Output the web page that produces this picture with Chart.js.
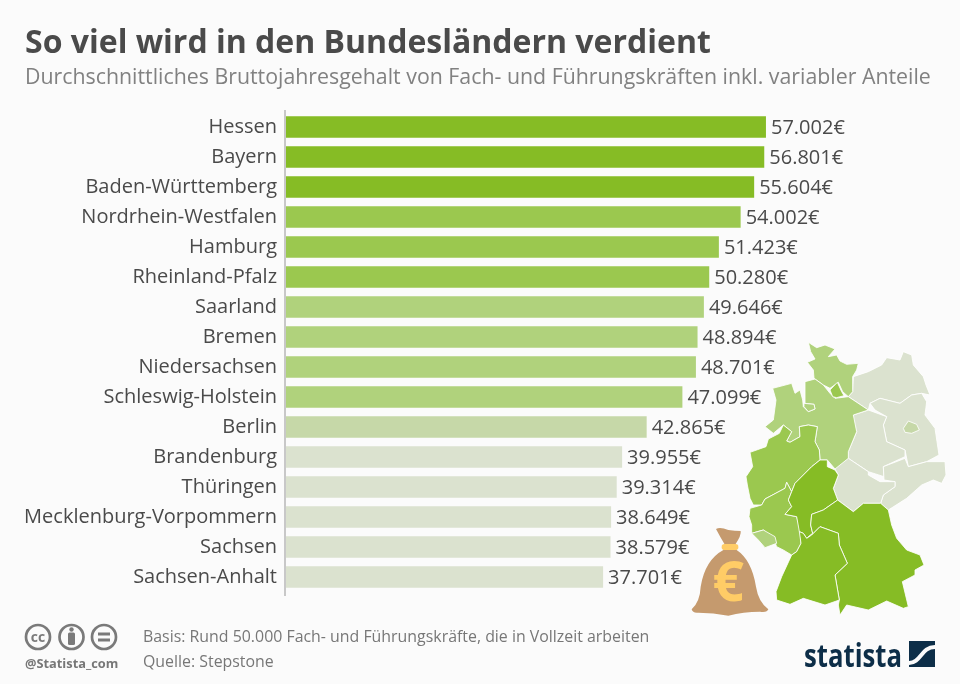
<!DOCTYPE html>
<html lang="de">
<head>
<meta charset="utf-8">
<title>So viel wird in den Bundesländern verdient</title>
<script src="https://cdn.jsdelivr.net/npm/chart.js@4"></script>
<style>
  body { margin: 0; background: #fbfbfb; font-family: 'Open Sans', sans-serif; }
  #page { position: relative; width: 960px; height: 684px; overflow: hidden; }
  #page canvas { position: absolute; left: 0; top: 0; }
  .txt { position: absolute; white-space: nowrap; }
  #title { left: 25px; top: 19px; font-size: 32px; font-weight: 700; color: #4a4a4a; }
  #subtitle { left: 25px; top: 61px; font-size: 21.33px; color: #818181; }
  .note { left: 143px; font-size: 15.9px; color: #777; }
  #handle { left: 25px; top: 654px; font-size: 12.8px; font-weight: 700; color: #777; }
  svg { position: absolute; }
</style>
</head>
<body>
<div id="page">
  <canvas id="chart" width="960" height="684"></canvas>
  <div class="txt" id="title">So viel wird in den Bundesländern verdient</div>
  <div class="txt" id="subtitle">Durchschnittliches Bruttojahresgehalt von Fach- und Führungskräften inkl. variabler Anteile</div>
  <div class="txt note" style="top:625px">Basis: Rund 50.000 Fach- und Führungskräfte, die in Vollzeit arbeiten</div>
  <div class="txt note" style="top:650px">Quelle: Stepstone</div>
  <div class="txt" id="handle">@Statista_com</div>

  <!-- Deutschlandkarte -->
  <svg style="left:740px;top:335px" width="210" height="285" viewBox="0 0 630 855">
    <g stroke="#fff" stroke-width="2.5" stroke-linejoin="round">
      <path fill="#dbe2cf" d="M325 185L338 170 340 125 385 110 425 90 440 68 480 75 490 50 515 60 520 90 550 125 558 150 570 180 545 175 515 180 480 205 420 190 390 205 385 225Z"/>
      <path fill="#dbe2cf" d="M390 205L420 190 480 205 515 180 545 175 560 200 555 240 585 280 597 360 560 380 505 395 495 345 440 320 430 270 440 245 405 225Z"/>
      <path fill="#dbe2cf" d="M340 240L385 225 440 245 430 270 440 320 495 345 495 365 430 395 432 425 385 410 340 380 325 370 325 350 350 290 335 255Z"/>
      <path fill="#dbe2cf" d="M430 395L495 370 505 395 560 380 615 380 618 420 605 445 580 435 545 450 500 490 445 525 422 505 430 480 465 455 465 440 432 435Z"/>
      <path fill="#dbe2cf" d="M285 402L300 380 325 370 340 380 385 410 385 420 420 440 465 440 465 455 430 480 422 505 370 505 340 530 293 495 280 460 295 420Z"/>
      <path fill="#c6d8a8" d="M490 280L505 258 530 268 538 285 515 295 495 292Z"/>
      <path fill="#b0d27c" d="M205 22L230 38 255 30 285 42 265 65 290 60 300 78 320 88 355 85 350 105 338 125 338 170 325 185 308 170 295 142 270 160 250 150 222 130 220 105 202 82 225 72 212 50Z"/>
      <path fill="#b0d27c" d="M195 140L225 132 250 150 270 175 285 190 325 185 385 225 340 240 350 290 325 350 325 370 285 402 262 375 240 375 238 345 225 320 232 275 205 270 178 275 180 305 150 322 140 318 155 290 130 270 100 295 75 275 100 255 108 195 98 160 155 145 165 175 180 165 188 195 190 215 205 230 225 222 222 208 195 205 195 180Z"/>
      <path fill="#b0d27c" d="M192 205L222 208 225 222 205 230 192 215Z"/>
      <path fill="#9bc84f" d="M270 165L292 142 305 170 312 182 290 188 278 185Z"/>
      <path fill="#9bc84f" d="M30 352L78 335 85 312 118 295 130 270 155 290 140 318 150 322 180 305 178 275 205 270 232 275 225 320 238 345 240 375 215 395 190 420 165 445 155 470 140 442 135 460 75 492 65 510 40 510 30 490 22 450 18 425 38 395Z"/>
      <path fill="#9bc84f" d="M30 520L65 510 75 492 135 460 140 442 155 470 145 495 155 515 135 538 170 545 180 585 183 625 170 650 155 660 130 645 110 635 100 610 70 585 35 595 35 570 27 545Z"/>
      <path fill="#b0d27c" d="M35 595L70 585 105 605 110 625 75 638 55 615Z"/>
      <path fill="#86bc25" d="M190 420L215 395 240 375 262 375 262 395 285 405 295 420 280 460 293 495 250 525 215 538 212 570 218 595 200 610 190 595 178 590 170 545 135 538 155 515 145 495 155 470 165 445Z"/>
      <path fill="#86bc25" d="M293 495L340 530 370 505 422 505 445 525 455 570 470 610 500 645 540 660 552 690 525 705 525 720 487 740 505 815 490 820 440 798 385 825 320 810 300 840 295 810 298 795 285 720 322 685 298 630 295 595 240 575 215 600 200 610 218 595 212 570 215 538 250 525Z"/>
      <path fill="#86bc25" d="M200 610L215 600 240 575 295 595 298 630 322 685 285 720 298 795 255 810 190 790 150 808 110 795 108 770 125 725 155 660 170 650 183 625 178 590 190 595Z"/>
    </g>
  </svg>

  <!-- Geldsack -->
  <svg style="left:680px;top:330px" width="100" height="290" viewBox="0 0 300 870">
    <path fill="#c59a6e" d="M108 597Q120 590 145 600Q165 603 182 603Q185 615 165 645L170 660Q215 690 228 770Q235 815 265 838Q262 848 240 845Q190 845 145 857Q100 848 55 848Q38 850 35 838Q60 815 62 770Q75 690 130 660L135 645Q120 620 108 597Z"/>
    <rect x="125" y="642" width="50" height="18" rx="8" fill="#ffcc66"/>
    <text x="145" y="812" text-anchor="middle" font-family="Open Sans" font-weight="700" font-size="165" fill="#ffcc66">€</text>
  </svg>

  <!-- CC-Icons -->
  <svg style="left:20px;top:620px" width="104" height="34" viewBox="0 0 104 34">
    <g fill="none" stroke="#7a7a7a" stroke-width="2.7">
      <circle cx="18" cy="17" r="12"/><circle cx="51.5" cy="17" r="12"/><circle cx="84" cy="17" r="12"/>
    </g>
    <text x="18" y="21.5" text-anchor="middle" font-family="Open Sans" font-weight="700" font-size="14" fill="#7a7a7a">cc</text>
    <circle cx="51.5" cy="9.5" r="2.2" fill="#7a7a7a"/>
    <rect x="48" y="12.5" width="7" height="12.5" rx="1.5" fill="#7a7a7a"/>
    <rect x="78" y="12.5" width="12" height="3" fill="#7a7a7a"/><rect x="78" y="18.5" width="12" height="3" fill="#7a7a7a"/>
  </svg>

  <!-- Statista-Logo -->
  <svg style="left:800px;top:636px" width="140" height="36" viewBox="0 0 140 36">
    <text x="4" y="31" font-family="Open Sans" font-weight="700" font-size="33" fill="#0d2e48" textLength="98" lengthAdjust="spacingAndGlyphs">statista</text>
    <rect x="109" y="5" width="26" height="26" fill="#0d2e48"/>
    <path d="M109 27C121 27 121 11 135 11" fill="none" stroke="#fbfbfb" stroke-width="4"/>
  </svg>
</div>

<script>
// Bruttojahresgehalt je Bundesland
const categories = ['Hessen', 'Bayern', 'Baden-Württemberg', 'Nordrhein-Westfalen', 'Hamburg', 'Rheinland-Pfalz',
  'Saarland', 'Bremen', 'Niedersachsen', 'Schleswig-Holstein', 'Berlin', 'Brandenburg', 'Thüringen',
  'Mecklenburg-Vorpommern', 'Sachsen', 'Sachsen-Anhalt'];
const salaries = [57002, 56801, 55604, 54002, 51423, 50280, 49646, 48894, 48701, 47099, 42865, 39955, 39314, 38649, 38579, 37701];
const barColors = ['#86bc25', '#86bc25', '#86bc25', '#9bc84f', '#9bc84f', '#9bc84f', '#b0d27c', '#b0d27c', '#b0d27c', '#b0d27c',
  '#c6d8a8', '#dbe2cf', '#dbe2cf', '#dbe2cf', '#dbe2cf', '#dbe2cf'];

const textColor = '#4a4a4a';
const labelFont = "20px 'Open Sans', sans-serif";

function formatEuro(v) {
  return String(v).replace(/\B(?=(\d{3})+$)/g, '.') + '€';
}

// Werte rechts neben die Balken schreiben
const valueLabels = {
  id: 'valueLabels',
  afterDatasetsDraw(chart) {
    const ctx = chart.ctx;
    ctx.save();
    ctx.font = labelFont;
    ctx.fillStyle = textColor;
    ctx.textBaseline = 'middle';
    chart.getDatasetMeta(0).data.forEach((bar, i) => {
      ctx.fillText(formatEuro(salaries[i]), bar.x + 5, bar.y + 1);
    });
    ctx.restore();
  }
};

// Achsenlinie etwas laenger als die Chart-Flaeche
const axisLine = {
  id: 'axisLine',
  afterDraw(chart) {
    const { ctx, chartArea } = chart;
    ctx.save();
    ctx.strokeStyle = '#c8c8c8';
    ctx.lineWidth = 2;
    ctx.beginPath();
    ctx.moveTo(chartArea.left, chartArea.top - 2);
    ctx.lineTo(chartArea.left, chartArea.bottom + 4);
    ctx.stroke();
    ctx.restore();
  }
};

new Chart(document.getElementById('chart').getContext('2d'), {
  type: 'bar',
  data: {
    labels: categories,
    datasets: [{
      data: salaries,
      backgroundColor: barColors,
      borderWidth: 0,
      barPercentage: 0.72,
      categoryPercentage: 1
    }]
  },
  options: {
    indexAxis: 'y',
    responsive: false,
    animation: false,
    layout: { padding: { top: 112, bottom: 92 } },
    plugins: {
      legend: { display: false },
      title: { display: false },
      tooltip: { enabled: false }
    },
    scales: {
      x: { display: false, min: 0, max: 80000 },
      y: {
        afterFit(scale) { scale.width = 285; },
        grid: { display: false, drawTicks: false },
        border: { display: false },
        ticks: {
          color: textColor,
          font: { family: "'Open Sans', sans-serif", size: 20 },
          padding: 8,
          autoSkip: false
        }
      }
    }
  },
  plugins: [valueLabels, axisLine]
});
</script>
</body>
</html>
